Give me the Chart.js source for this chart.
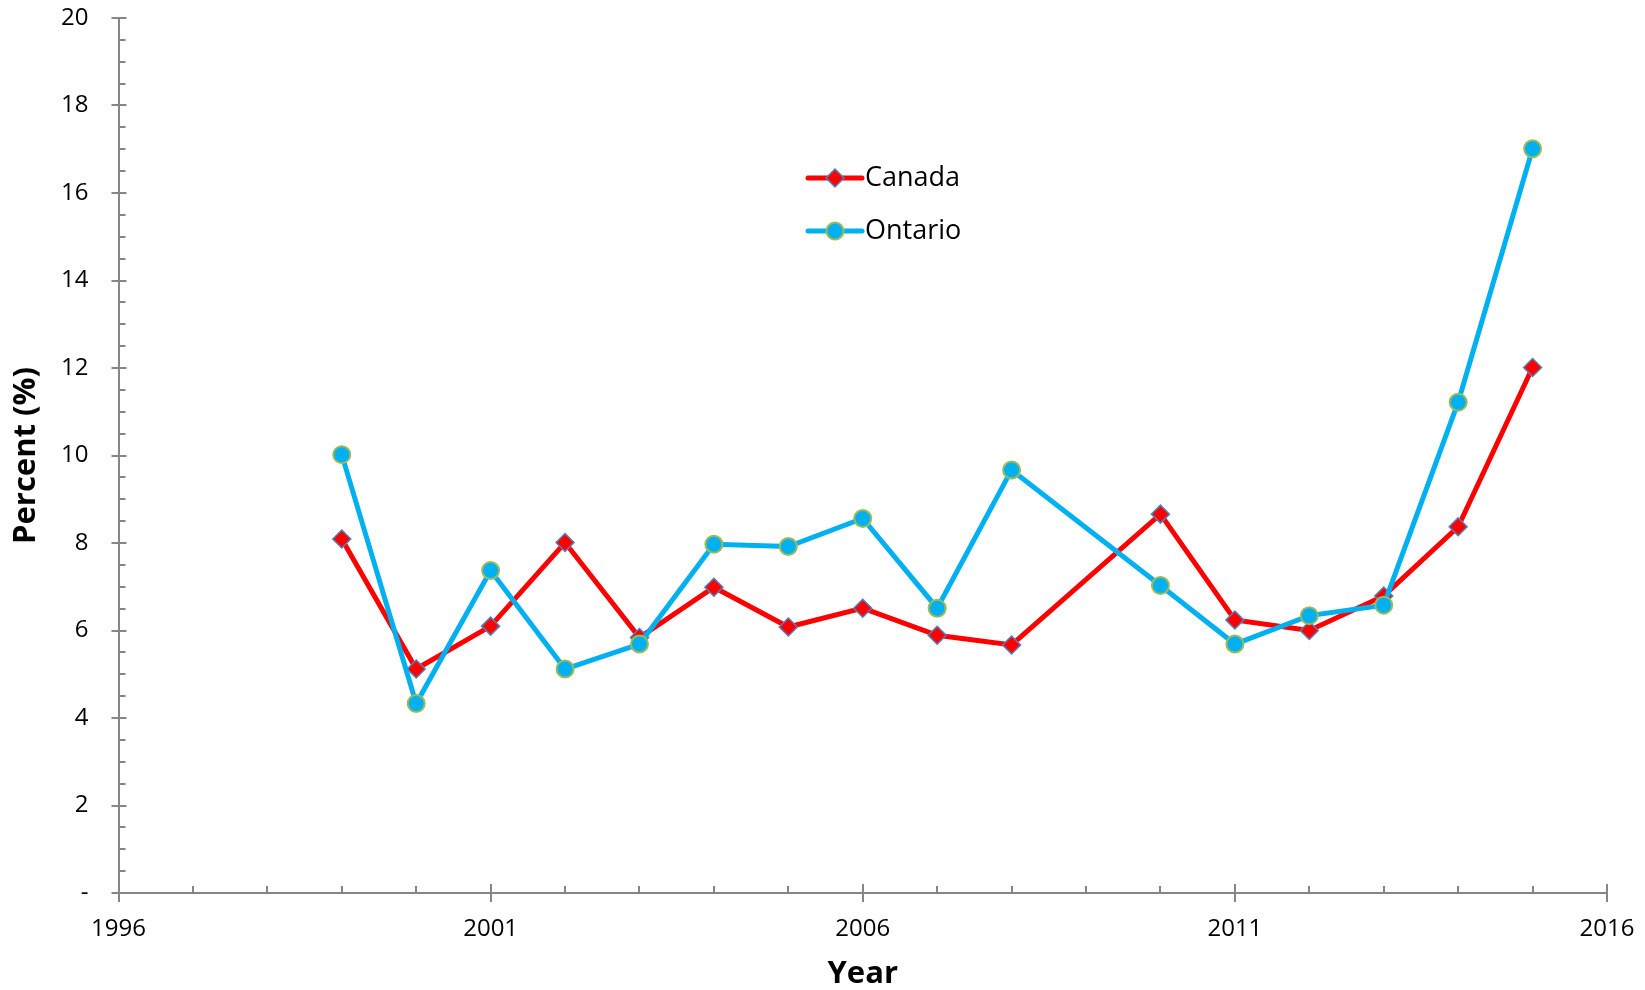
<!DOCTYPE html>
<html>
<head>
<meta charset="utf-8">
<title>Canada vs Ontario</title>
<script src="https://cdn.jsdelivr.net/npm/chart.js@4"></script>
<style>
  html, body { margin: 0; padding: 0; background: #fff; }
  #wrap { width: 1645px; height: 990px; position: relative; }
</style>
</head>
<body>
<div id="wrap"><canvas id="chart" width="1645" height="990"></canvas></div>
<script>
// ---- data (no point for 2009) ----
const years   = [1999, 2000, 2001, 2002, 2003, 2004, 2005, 2006, 2007, 2008, 2010, 2011, 2012, 2013, 2014, 2015];
const canada  = [8.09, 5.12, 6.10, 8.01, 5.84, 6.99, 6.08, 6.51, 5.89, 5.67, 8.66, 6.24, 6.00, 6.79, 8.37, 12.01];
const ontario = [10.02, 4.33, 7.37, 5.12, 5.69, 7.97, 7.92, 8.56, 6.51, 9.67, 7.03, 5.69, 6.34, 6.58, 11.22, 17.01];

const xTickYears = [1996, 2001, 2006, 2011, 2016];
const yTickValues = [0, 2, 4, 6, 8, 10, 12, 14, 16, 18, 20];

const AXIS_GREY = '#868686';
const FONT = '"Open Sans", "DejaVu Sans", sans-serif';

function toPoints(vals) {
  return years.map((yr, i) => ({ x: yr, y: vals[i] }));
}

// tick marks in the Excel style: major ones cross the axis, minor ones sit inside
const axisTicks = {
  id: 'axisTicks',
  afterDraw(chart) {
    const { ctx, scales: { x, y } } = chart;
    ctx.save();
    ctx.strokeStyle = AXIS_GREY;
    ctx.lineWidth = 2;
    ctx.beginPath();
    // y axis: minor every 0.5, major every 2
    for (let v = y.min; v <= y.max + 1e-9; v += 0.5) {
      const py = Math.round(y.getPixelForValue(v));
      const major = yTickValues.includes(v);
      ctx.moveTo(x.left - (major ? 7 : 0), py);
      ctx.lineTo(x.left + (major ? 8 : 7), py);
    }
    // x axis: minor every year, major at labelled years
    for (let v = x.min; v <= x.max; v++) {
      const px = Math.round(x.getPixelForValue(v));
      const major = xTickYears.includes(v);
      ctx.moveTo(px, y.bottom - (major ? 9 : 7));
      ctx.lineTo(px, y.bottom + (major ? 9 : 0));
    }
    ctx.stroke();
    ctx.restore();
  }
};

// legend inside the plot: line sample with the marker in the middle
const insideLegend = {
  id: 'insideLegend',
  afterDraw(chart) {
    const { ctx } = chart;
    const items = [chart.data.datasets[1], chart.data.datasets[0]]; // Canada, Ontario
    const left = 808, right = 862, rows = [178, 231];
    items.forEach((ds, i) => {
      const cy = rows[i];
      ctx.save();
      ctx.strokeStyle = ds.borderColor;
      ctx.lineWidth = ds.borderWidth;
      ctx.lineCap = 'round';
      ctx.beginPath();
      ctx.moveTo(left, cy);
      ctx.lineTo(right, cy);
      ctx.stroke();
      ctx.fillStyle = ds.pointBackgroundColor;
      ctx.strokeStyle = ds.pointBorderColor;
      ctx.lineWidth = ds.pointBorderWidth;
      Chart.helpers.drawPoint(ctx, { pointStyle: ds.pointStyle, radius: ds.pointRadius, rotation: 0, borderWidth: ds.pointBorderWidth }, (left + right) / 2, cy);
      ctx.fillStyle = '#000';
      ctx.font = '27px ' + FONT;
      ctx.textAlign = 'left';
      ctx.textBaseline = 'middle';
      ctx.fillText(ds.label, right + 3, cy);
      ctx.restore();
    });
  }
};

new Chart(document.getElementById('chart'), {
  type: 'line',
  data: {
    datasets: [
      {
        label: 'Ontario',
        data: toPoints(ontario),
        borderColor: '#00B0F0',
        borderWidth: 5,
        pointStyle: 'circle',
        pointRadius: 8.5,
        pointHoverRadius: 8.5,
        pointBackgroundColor: '#00B0F0',
        pointBorderColor: '#9BBB59',
        pointBorderWidth: 2,
        tension: 0,
        order: 0
      },
      {
        label: 'Canada',
        data: toPoints(canada),
        borderColor: '#FF0000',
        borderWidth: 5,
        pointStyle: 'rectRot',
        pointRadius: 9,
        pointHoverRadius: 9,
        pointBackgroundColor: '#FF0000',
        pointBorderColor: '#4F81BD',
        pointBorderWidth: 1.5,
        tension: 0,
        order: 1
      }
    ]
  },
  options: {
    responsive: false,
    animation: false,
    layout: { padding: { left: 0, right: 38, top: 18, bottom: 0 } },
    plugins: {
      legend: { display: false },
      tooltip: { enabled: false }
    },
    scales: {
      x: {
        type: 'linear',
        min: 1996,
        max: 2016,
        afterBuildTicks: s => { s.ticks = xTickYears.map(v => ({ value: v })); },
        afterFit: s => { s.height = 97; s.paddingLeft = 0; s.paddingRight = 0; },
        grid: { display: false, drawTicks: false },
        border: { display: true, color: AXIS_GREY, width: 2 },
        ticks: {
          padding: 22,
          color: '#000',
          font: { family: FONT, size: 24 },
          callback: v => String(v)
        },
        title: {
          display: true,
          text: 'Year',
          color: '#000',
          font: { family: FONT, size: 31, weight: 'bold', lineHeight: 1 },
          padding: { top: 0, bottom: 0 }
        }
      },
      y: {
        min: 0,
        max: 20,
        afterBuildTicks: s => { s.ticks = yTickValues.map(v => ({ value: v })); },
        afterFit: s => { s.width = 118.5; s.paddingTop = 0; s.paddingBottom = 0; },
        grid: { display: false, drawTicks: false },
        border: { display: true, color: AXIS_GREY, width: 2 },
        ticks: {
          padding: 30,
          color: '#000',
          font: { family: FONT, size: 24 },
          callback: v => (v === 0 ? '-' : String(v))
        },
        title: {
          display: true,
          text: 'Percent (%)',
          color: '#000',
          font: { family: FONT, size: 31, weight: 'bold', lineHeight: 1.2 },
          padding: { top: 8, bottom: 0 }
        }
      }
    }
  },
  plugins: [axisTicks, insideLegend]
});
</script>
</body>
</html>
